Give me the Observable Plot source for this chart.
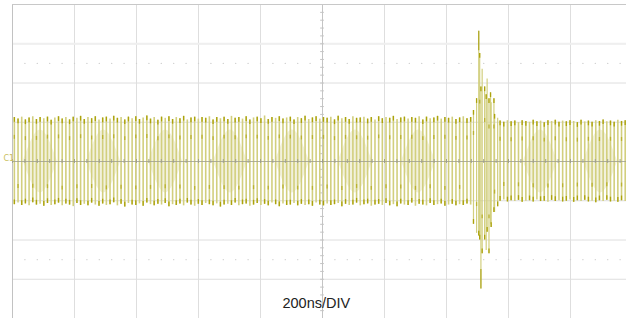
<!DOCTYPE html>
<html><head><meta charset="utf-8">
<script src="https://cdn.jsdelivr.net/npm/d3@7"></script>
<script src="https://cdn.jsdelivr.net/npm/@observablehq/plot@0.6"></script>
<style>html,body{margin:0;padding:0;background:#fff;overflow:hidden}</style>
</head><body><div id="chart"></div>
<script>
// Oscilloscope trace, C1, 200 ns/div, volts in divisions
const timePerDiv = 200;            // ns
const t0 = 6;                      // ns, first displayed stroke
const dt = 11.87;                  // ns between displayed strokes
const hi = [
1.12,1.08,1.13,1.06,1.11,1.14,1.07,1.12,1.09,1.13,1.05,1.11,1.14,1.08,1.12,1.06,1.13,1.10,1.15,1.07,
1.12,1.09,1.14,1.06,1.11,1.13,1.08,1.15,1.10,1.12,1.06,1.13,1.09,1.14,1.07,1.11,1.16,1.08,1.12,1.05,
1.13,1.10,1.14,1.07,1.12,1.09,1.15,1.06,1.11,1.13,1.08,1.12,1.10,1.14,1.06,1.12,1.09,1.13,1.07,1.15,
1.10,1.12,1.08,1.14,1.06,1.11,1.13,1.09,1.16,1.07,1.12,1.10,1.14,1.08,1.11,1.13,1.06,1.12,1.09,1.15,
1.07,1.11,1.14,1.08,1.12,1.10,1.13,1.06,1.15,1.09,1.12,1.07,1.14,1.10,1.11,1.13,1.08,1.12,1.06,1.14,
1.09,1.12,1.10,1.15,1.07,1.11,1.13,1.08,1.12,1.10,1.14,1.06,1.13,1.09,1.11,1.15,1.08,1.12,1.10,1.13,
1.07,1.11,1.14,1.09,1.12,
1.10,1.12,1.08,1.10,1.08,1.06,1.04,
1.03,1.00,1.04,1.01,1.03,0.99,1.04,1.02,1.00,1.05,1.01,1.03,0.99,1.04,1.02,1.05,1.00,1.03,1.01,1.04,
1.02,0.99,1.05,1.01,1.03,1.00,1.04,1.02,1.06,1.01,1.03,1.00,1.05,1.02,1.04];
const lo = [
-1.10,-1.06,-1.12,-1.08,-1.13,-1.05,-1.11,-1.09,-1.14,-1.07,-1.12,-1.10,-1.06,-1.13,-1.08,-1.11,-1.15,-1.07,-1.12,-1.09,
-1.13,-1.06,-1.11,-1.14,-1.08,-1.12,-1.10,-1.05,-1.13,-1.09,-1.16,-1.07,-1.11,-1.12,-1.08,-1.14,-1.06,-1.10,-1.13,-1.09,
-1.11,-1.07,-1.15,-1.10,-1.12,-1.08,-1.13,-1.06,-1.11,-1.14,-1.09,-1.12,-1.07,-1.10,-1.13,-1.08,-1.16,-1.11,-1.09,-1.12,
-1.06,-1.13,-1.10,-1.08,-1.14,-1.11,-1.07,-1.12,-1.09,-1.13,-1.06,-1.10,-1.15,-1.08,-1.12,-1.11,-1.07,-1.13,-1.09,-1.12,
-1.10,-1.14,-1.06,-1.11,-1.13,-1.08,-1.12,-1.10,-1.07,-1.15,-1.09,-1.12,-1.11,-1.06,-1.13,-1.10,-1.08,-1.14,-1.11,-1.09,
-1.12,-1.07,-1.13,-1.10,-1.15,-1.08,-1.11,-1.12,-1.06,-1.14,-1.09,-1.11,-1.13,-1.07,-1.12,-1.10,-1.08,-1.14,-1.11,-1.09,
-1.13,-1.10,-1.12,-1.08,-1.11,
-1.10,-1.12,-1.09,-1.08,-1.06,-1.05,-1.03,
-1.01,-0.98,-1.03,-1.00,-1.02,-0.99,-1.04,-1.01,-1.00,-1.03,-0.98,-1.02,-1.01,-1.04,-0.99,-1.02,-1.00,-1.03,-1.01,-0.98,
-1.04,-1.00,-1.02,-0.99,-1.03,-1.01,-1.05,-1.00,-1.02,-0.99,-1.03,-1.01,-1.04,-1.00,-1.02];
// transient burst strokes
const burstT  = [1487, 1497, 1504, 1507, 1511, 1515, 1523, 1528, 1531, 1537, 1542, 1544, 1553, 1555, 1565];
const burstHi = [1.30, 1.60, 3.32, 2.75, 1.90, 2.35, 1.90, 1.70, 2.10, 1.60, 1.75, 1.50, 1.60, 1.20, 1.10];
const burstLo = [-1.60,-1.83,-1.90,-2.00,-3.25,-2.35,-2.00,-2.27,-1.80,-2.35,-1.60,-1.68,-1.30,-1.30,-1.15];
// light beat regions (ns)
const beatCenters = [90, 294, 494, 703, 903, 1106, 1310, 1703, 1897];
const gridX = [200, 400, 600, 800, 1200, 1400, 1600, 1800];
const gridY = [-3, -2, -1, 1, 2, 3];
const label = "200ns/DIV";

const strokes = hi.map((h, i) => ({t: t0 + i * dt, hi: h, lo: lo[i], i}))
  .filter(d => d.t < 1482 || d.t > 1570);
const burst = burstT.map((t, i) => ({t, hi: burstHi[i], lo: burstLo[i], i}));
const diamonds = beatCenters.flatMap((c, k) => [
  {k, t: c - 55, a: 0, b: 0}, {k, t: c, a: -0.8, b: 0.8}, {k, t: c + 55, a: 0, b: 0}]);
const minorX = d3.range(0, 2000, 40);
const minorY = d3.range(-4, 4.001, 0.2);
const dots = [2.5, -2.5].flatMap(y => d3.range(40, 2000, 40).map(t => ({t, y})));
const all = strokes.concat(burst);

const chart = Plot.plot({
  width: 626, height: 318,
  marginLeft: 12, marginRight: 0, marginTop: 4, marginBottom: 0,
  x: {domain: [0, 1980.6], axis: null},
  y: {domain: [-4, 4], axis: null},
  style: {background: "#fff", overflow: "visible"},
  marks: [
    Plot.ruleX(gridX, {stroke: "#dedede", strokeWidth: 1}),
    Plot.ruleY(gridY, {stroke: "#dedede", strokeWidth: 1}),
    Plot.ruleY([3], {stroke: "#efefef", strokeWidth: 2}),
    Plot.dot(dots, {x: "t", y: "y", r: 0.7, fill: "#cfcfcf", stroke: null}),
    Plot.ruleX([1000], {stroke: "#c4c4c4"}),
    Plot.ruleY(minorY, {y: d => d, x1: 994, x2: 1006, stroke: "#c4c4c4"}),
    Plot.ruleX([0], {stroke: "#c2c2c2"}),
    Plot.ruleY([4], {stroke: "#c8c8c8"}),
    Plot.areaY(diamonds, {x: "t", y1: "a", y2: "b", z: "k", fill: "#f2f1dc", curve: "natural"}),
    Plot.ruleX(strokes, {x: "t", y1: "lo", y2: "hi", stroke: "#d2cf7e", strokeWidth: 1.6}),
    Plot.ruleX(burst, {x: "t", y1: "lo", y2: "hi", stroke: "#d2cf7e", strokeWidth: 1.2}),
    Plot.ruleX(all, {x: "t", y1: d => d.hi - 0.12, y2: "hi", stroke: "#aca30c", strokeWidth: 1.3, filter: d => d.i % 3 !== 2}),
    Plot.ruleX(all, {x: "t", y1: "lo", y2: d => d.lo + 0.12, stroke: "#aca30c", strokeWidth: 1.3, filter: d => d.i % 3 !== 1}),
    Plot.ruleX(burst, {x: "t", y1: d => d.hi - 0.5, y2: "hi", stroke: "#aca31a", strokeWidth: 1.1, filter: d => d.hi > 3}),
    Plot.ruleX(burst, {x: "t", y1: "lo", y2: d => d.lo + 0.5, stroke: "#aca31a", strokeWidth: 1.1, filter: d => d.lo < -3}),
    Plot.ruleX(all, {x: "t", y1: d => d.hi * 0.55 - 0.05, y2: d => d.hi * 0.55 + 0.05, stroke: "#bab232", strokeWidth: 1.3, filter: d => d.i % 3 === 0}),
    Plot.ruleX(all, {x: "t", y1: d => d.lo * 0.6 - 0.05, y2: d => d.lo * 0.6 + 0.05, stroke: "#bab232", strokeWidth: 1.3, filter: d => d.i % 4 === 1}),
    Plot.ruleY([0], {stroke: "#9f9f8c", strokeOpacity: 0.8}),
    Plot.ruleX(minorX, {x: d => d, y1: -0.05, y2: 0.05, stroke: "#9f9f8c"}),
    Plot.text(["C1"], {x: -12, y: 0.07, text: d => d, fill: "#c9c060", fontSize: 8, fontFamily: "DejaVu Sans, sans-serif"}),
    Plot.text([label], {x: 980, y: -3.62, text: d => d, fill: "#222", fontSize: 14.5, fontFamily: "Liberation Sans, Arial, sans-serif"})
  ]
});
document.getElementById("chart").appendChild(chart);
</script>
</body></html>
